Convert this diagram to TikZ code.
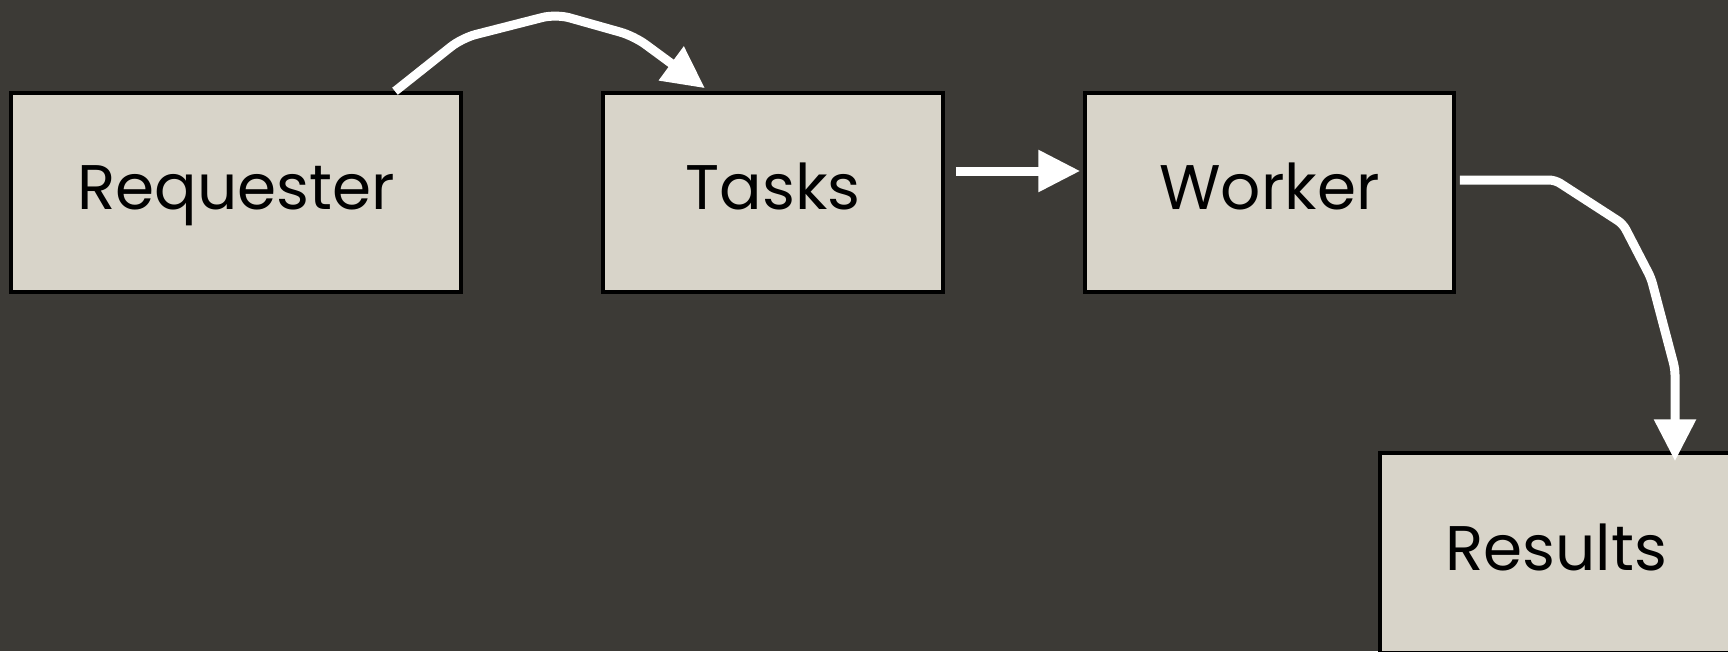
\documentclass[tikz,border=0pt]{standalone}
\usepackage{fontspec}
\setmainfont{Poppins}
\usetikzlibrary{arrows.meta,calc}
\definecolor{bgc}{HTML}{3C3A36}
\definecolor{boxc}{HTML}{D8D4C9}
\tikzset{
  stagebox/.style={draw=black,line width=3.5pt,fill=boxc,inner sep=0pt,
    minimum height=199pt,font=\fontsize{63}{70}\selectfont,text=black,
    text height=50pt,text depth=16pt},
  flow/.style={draw=white,line width=9pt,rounded corners=6pt,
    -{Triangle[length=42pt,width=40pt]}}
}
\begin{document}
\begin{tikzpicture}[x=1pt,y=-1pt]
\useasboundingbox (0,0) rectangle (1728,651);
\clip (0,0) rectangle (1728,651);
\fill[bgc] (0,0) rectangle (1728,651);
\node[stagebox,minimum width=450pt] (req) at (236,192.5) {Requester};
\node[stagebox,minimum width=340pt] (tasks) at (773,192.5) {Tasks};
\node[stagebox,minimum width=369pt] (worker) at (1269.5,192.5) {Worker};
\node[stagebox,minimum width=352pt,minimum height=200pt] (results) at (1556,553) {Results};
\draw[flow,rounded corners=14pt] ($(req.north)+(159,0)$) -- (462,38) -- (556,14) -- (634,36) -- ($(tasks.north)+(-68,-3)$);
\draw[flow] ($(tasks.east)+(11,-21.5)$) -- ($(worker.west)+(-3,-21.5)$);
\draw[flow] ($(worker.east)+(4,-12.5)$) -- (1555,180) -- (1623,224) -- (1651,278) -- (1675,369) -- ($(results.north)+(119,10)$);
\end{tikzpicture}
\end{document}
